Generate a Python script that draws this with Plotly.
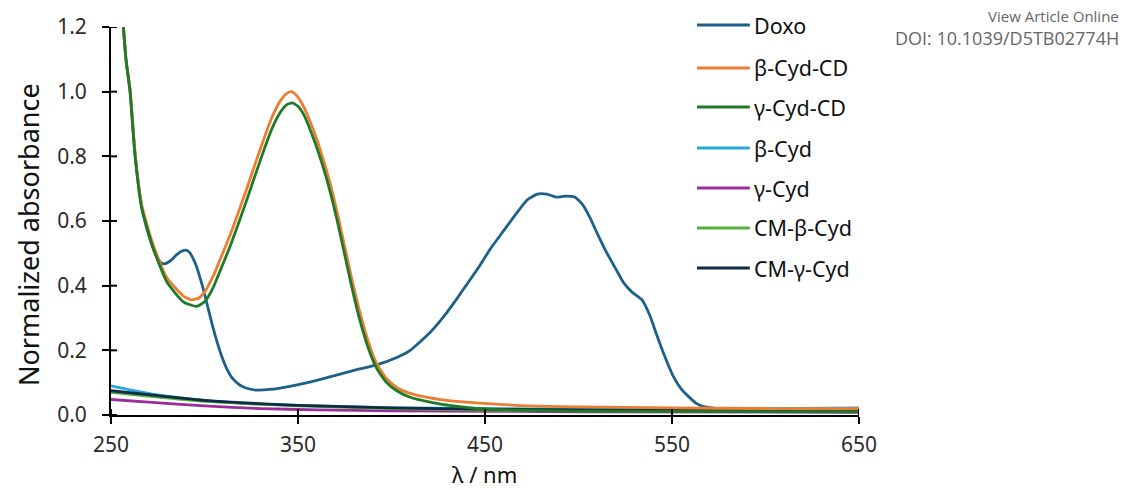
import plotly.graph_objects as go

# ---------------- data ----------------
series_names = ["Doxo", "β-Cyd-CD", "γ-Cyd-CD", "β-Cyd", "γ-Cyd", "CM-β-Cyd", "CM-γ-Cyd"]
series_colors = ["#1d6089", "#ed7d31", "#1e7a26", "#27a7dc", "#9b2c9c", "#55b040", "#0e2c44"]

doxo_nm = [256, 258, 260.2, 262.8, 266.4, 270, 272.6, 275, 277, 279, 282, 285, 288, 290, 292,
           295, 297.6, 300, 303, 306, 309, 312, 315, 319, 323, 328, 335, 345, 355, 367, 380,
           392, 402.8, 410, 420.6, 428, 435, 441, 447, 453, 460, 467, 472.5, 478, 483, 488,
           493, 498, 502, 506, 510, 515, 520.6, 524, 528.6, 534, 538, 542, 546, 550.5, 555,
           559.6, 563, 567, 575, 600, 650]
doxo_abs = [1.25, 1.10, 1.00, 0.81, 0.645, 0.56, 0.515, 0.485, 0.47, 0.468, 0.478, 0.495, 0.507, 0.51, 0.503,
            0.47, 0.425, 0.375, 0.305, 0.24, 0.185, 0.142, 0.113, 0.092, 0.082, 0.077, 0.079, 0.088, 0.10, 0.118, 0.138,
            0.155, 0.178, 0.20, 0.255, 0.305, 0.36, 0.41, 0.46, 0.515, 0.57, 0.625, 0.665, 0.683, 0.683, 0.674,
            0.677, 0.674, 0.652, 0.612, 0.562, 0.503, 0.445, 0.41, 0.38, 0.356, 0.31, 0.245, 0.183, 0.122, 0.08,
            0.053, 0.036, 0.026, 0.02, 0.018, 0.017]

bcd_nm = [256, 258, 260.2, 262.8, 266.4, 272.6, 279.8, 288.7, 293, 297, 300, 304.7, 309, 313.6, 318,
          322.6, 327, 331.5, 336, 340.4, 344, 346.5, 349, 352, 358, 363, 367, 371, 375, 379, 383,
          388, 392, 397, 402.8, 410, 420.6, 433, 447, 474, 500, 550, 600, 650]
bcd_abs = [1.25, 1.10, 1.01, 0.815, 0.65, 0.525, 0.425, 0.368, 0.356, 0.362, 0.38, 0.43, 0.49, 0.555, 0.625,
           0.70, 0.775, 0.85, 0.92, 0.97, 0.995, 1.0, 0.99, 0.965, 0.885, 0.80, 0.72, 0.625, 0.52, 0.415, 0.32,
           0.22, 0.16, 0.115, 0.085, 0.067, 0.053, 0.043, 0.037, 0.028, 0.025, 0.022, 0.02, 0.02]

gcd_nm = [256, 258, 260.2, 262.8, 266.4, 272.6, 279.8, 288.7, 295.8, 300, 304.7, 309, 313.6, 318,
          322.6, 327, 331.5, 336, 340.4, 344, 347, 350, 353, 358, 363, 367, 371, 375, 379, 383,
          388, 392, 397, 402.8, 410, 420.6, 433, 447, 474, 500, 650]
gcd_abs = [1.25, 1.10, 1.00, 0.805, 0.64, 0.515, 0.412, 0.35, 0.336, 0.35, 0.395, 0.455, 0.52, 0.59,
           0.665, 0.74, 0.815, 0.885, 0.935, 0.96, 0.965, 0.955, 0.93, 0.86, 0.775, 0.695, 0.6, 0.495, 0.39, 0.295,
           0.2, 0.145, 0.103, 0.075, 0.055, 0.04, 0.028, 0.02, 0.014, 0.012, 0.01]

bcyd_nm = [250, 260, 275, 300, 325, 350, 400, 450, 500, 550, 600, 650]
bcyd_abs = [0.09, 0.078, 0.062, 0.045, 0.035, 0.03, 0.022, 0.02, 0.018, 0.018, 0.02, 0.022]

gcyd_nm = [250, 270, 300, 330, 360, 400, 500, 650]
gcyd_abs = [0.048, 0.04, 0.028, 0.02, 0.016, 0.013, 0.01, 0.008]

cmb_nm = [250, 275, 300, 350, 400, 450, 550, 650]
cmb_abs = [0.07, 0.055, 0.042, 0.028, 0.02, 0.015, 0.012, 0.012]

cmg_nm = [250, 275, 300, 350, 400, 450, 550, 650]
cmg_abs = [0.075, 0.06, 0.045, 0.03, 0.022, 0.018, 0.014, 0.013]

x_ticks = [250, 350, 450, 550, 650]
y_ticks = [0.0, 0.2, 0.4, 0.6, 0.8, 1.0, 1.2]
y_tick_text = ["0.0", "0.2", "0.4", "0.6", "0.8", "1.0", "1.2"]

series_x = [doxo_nm, bcd_nm, gcd_nm, bcyd_nm, gcyd_nm, cmb_nm, cmg_nm]
series_y = [doxo_abs, bcd_abs, gcd_abs, bcyd_abs, gcyd_abs, cmb_abs, cmg_abs]
draw_order = [0, 3, 4, 5, 6, 1, 2]

# ---------------- figure ----------------
fig = go.Figure()
for i in draw_order:
    fig.add_trace(go.Scatter(
        x=series_x[i], y=series_y[i], name=series_names[i], mode="lines",
        line=dict(color=series_colors[i], width=2.8, shape="spline", smoothing=0.5),
        showlegend=False))

FONT = "Noto Sans"
TICKFONT = dict(size=21, family=FONT, color="#2a2a2a")
fig.update_layout(
    width=1123, height=490,
    margin=dict(l=111, r=264, t=27, b=75),
    paper_bgcolor="white", plot_bgcolor="white",
    font=dict(family=FONT, color="#222222"),
    xaxis=dict(range=[250, 650], tickvals=x_ticks, ticks="outside", ticklen=7, tickwidth=2,
               tickcolor="black", showline=True, linecolor="black", linewidth=2, showgrid=False,
               zeroline=False, tickfont=TICKFONT, automargin=False, ticklabelstandoff=3),
    yaxis=dict(range=[0, 1.2], tickvals=y_ticks, ticktext=y_tick_text, ticks="outside", ticklen=7,
               tickwidth=2, tickcolor="black", showline=True, linecolor="black", linewidth=2,
               showgrid=False, zeroline=False, tickfont=TICKFONT, automargin=False,
               ticklabelstandoff=11),
)

# inner half of the crossing tick marks
for xv in x_ticks:
    fig.add_shape(type="line", xref="x", yref="y domain", x0=xv, x1=xv, y0=0, y1=6 / 388,
                  line=dict(color="black", width=2), layer="above")
for yv in y_ticks:
    fig.add_shape(type="line", xref="x domain", yref="y", x0=0, x1=6 / 748, y0=yv, y1=yv,
                  line=dict(color="black", width=2), layer="above")

# axis titles
fig.add_annotation(xref="paper", yref="paper", x=(28 - 111) / 748, y=(415 - 235) / 388,
                   text="Normalized absorbance", textangle=-90, showarrow=False,
                   xanchor="center", yanchor="middle", font=dict(size=27, family=FONT, color="#111111"))
fig.add_annotation(xref="paper", yref="paper", x=(484 - 111) / 748, y=(415 - 474) / 388,
                   text="λ / nm", showarrow=False, xanchor="center", yanchor="middle",
                   font=dict(size=22, family=FONT, color="#111111"))

# manual legend (long line samples as in the reference)
legend_x0, legend_x1, legend_tx = 0.7834, 0.854, 0.857
legend_rows_px = [25, 68, 107, 148, 188, 228, 268]
for k, (nm, col) in enumerate(zip(series_names, series_colors)):
    yy = (415 - legend_rows_px[k]) / 388
    fig.add_shape(type="line", xref="paper", yref="paper", x0=legend_x0, x1=legend_x1, y0=yy, y1=yy,
                  line=dict(color=col, width=3))
    fig.add_annotation(xref="paper", yref="paper", x=legend_tx, y=yy, text=nm, showarrow=False,
                       xanchor="left", yanchor="middle", font=dict(size=21.5, family=FONT, color="#111111"))

# watermark
fig.add_annotation(xref="paper", yref="paper", x=1.3503, y=1.0284, text="View Article Online",
                   showarrow=False, xanchor="right", yanchor="middle",
                   font=dict(size=15, family="Open Sans", color="#666666"))
fig.add_annotation(xref="paper", yref="paper", x=1.3503, y=0.9716, text="DOI: 10.1039/D5TB02774H",
                   showarrow=False, xanchor="right", yanchor="middle",
                   font=dict(size=18, family="Open Sans", color="#666666"))

fig.write_html("out.html")
